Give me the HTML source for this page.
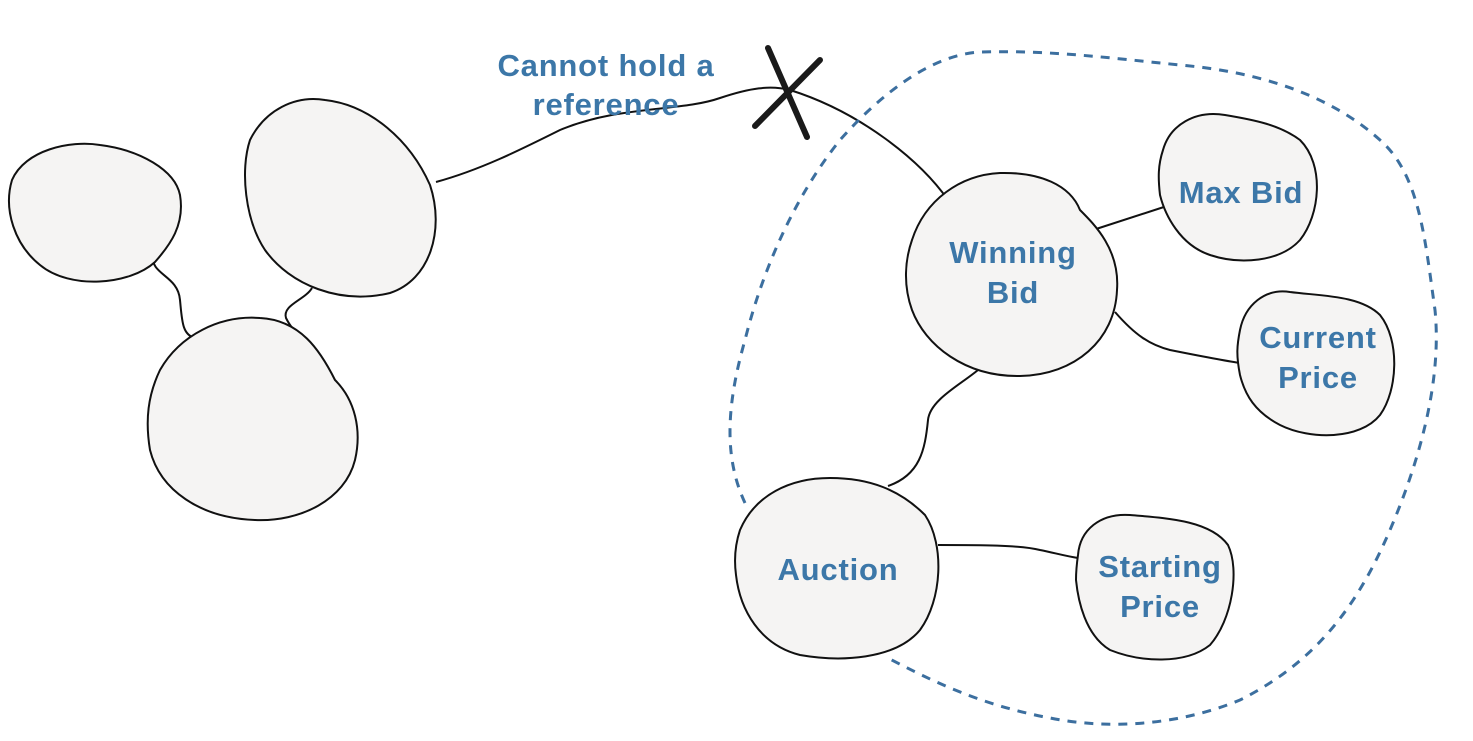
<!DOCTYPE html>
<html><head><meta charset="utf-8"><style>
html,body{margin:0;padding:0;background:#fff;}
svg{display:block;}
text{font-family:"Liberation Sans","DejaVu Sans",sans-serif;font-weight:bold;fill:#3c77a8;font-size:31px;text-anchor:middle;letter-spacing:0.8px;}
</style></head><body>
<svg width="1473" height="741" viewBox="0 0 1473 741" xmlns="http://www.w3.org/2000/svg">
<g fill="none" stroke="#111" stroke-width="2">
<path d="M153 255 C150 275,178 275,180 300 C182 320,182 335,195 338"/>
<path d="M312 288 C305 300,282 305,286 318 C290 326,295 332,300 334"/>
<path d="M436 182 C480 170,520 150,560 130 C620 105,680 112,720 98 C750 88,770 85,790 90 C860 112,920 160,948 200"/>
<path d="M1093 230 L1170 205"/>
<path d="M1115 312 C1135 335,1150 345,1170 350 C1200 356,1220 360,1240 363"/>
<path d="M978 370 C960 385,930 400,928 420 C925 450,920 475,888 486"/>
<path d="M938 545 C980 545,1020 545,1040 550 C1055 553,1065 556,1078 558"/>
</g>
<path d="M745 503 C725 460,725 410,745 340 C765 260,800 190,840 140 C880 95,930 55,980 52 C1050 50,1110 58,1180 65 C1260 72,1330 95,1380 140 C1420 175,1425 240,1435 310 C1442 380,1420 460,1390 530 C1360 600,1320 660,1240 700 C1180 725,1110 730,1050 718 C980 705,930 680,888 658" fill="none" stroke="#3c6f9f" stroke-width="3" stroke-dasharray="9 8"/>
<g fill="#f5f4f3" stroke="#111" stroke-width="2">
<path d="M12 180 C25 150,70 140,100 145 C140 150,175 170,180 195 C185 225,170 245,155 262 C130 285,70 290,40 265 C15 245,3 210,12 180 Z"/>
<path d="M250 140 C265 110,295 95,325 100 C370 105,410 140,430 185 C445 230,430 280,390 293 C340 305,290 285,265 250 C245 220,240 170,250 140 Z"/>
<path d="M160 370 C180 335,220 315,260 318 C300 320,320 350,335 380 C355 400,362 430,355 460 C345 500,300 522,255 520 C200 518,160 490,150 450 C145 420,148 395,160 370 Z"/>
<path d="M912 240 C925 200,960 175,1000 173 C1040 172,1070 185,1080 210 C1095 225,1120 250,1117 290 C1115 340,1075 375,1020 376 C965 377,925 345,912 310 C903 285,905 260,912 240 Z"/>
<path d="M1163 150 C1170 125,1195 110,1225 115 C1255 120,1280 125,1300 140 C1325 165,1320 215,1300 240 C1280 262,1240 265,1210 255 C1180 245,1165 215,1160 195 C1158 178,1158 165,1163 150 Z"/>
<path d="M1240 330 C1245 305,1265 288,1290 292 C1320 296,1360 295,1380 315 C1400 340,1398 390,1380 415 C1360 440,1310 440,1280 425 C1255 412,1245 395,1240 375 C1236 355,1237 345,1240 330 Z"/>
<path d="M740 530 C755 495,790 478,830 478 C870 478,900 490,925 515 C945 545,942 600,920 630 C895 660,840 662,800 655 C760 645,740 610,736 575 C734 560,735 545,740 530 Z"/>
<path d="M1078 555 C1080 530,1100 513,1130 515 C1165 518,1210 520,1228 545 C1240 570,1232 620,1210 645 C1185 665,1140 662,1110 650 C1085 635,1078 600,1076 580 C1076 570,1077 562,1078 555 Z"/>
</g>
<g stroke="#1a1a1a" stroke-width="6" stroke-linecap="round">
<line x1="755" y1="126" x2="820" y2="60"/>
<line x1="768" y1="48" x2="807" y2="137"/>
</g>
<text x="606" y="76">Cannot hold a</text>
<text x="606" y="115">reference</text>
<text x="1013" y="263">Winning</text>
<text x="1013" y="303">Bid</text>
<text x="1241" y="203">Max Bid</text>
<text x="1318" y="348">Current</text>
<text x="1318" y="388">Price</text>
<text x="838" y="580">Auction</text>
<text x="1160" y="577">Starting</text>
<text x="1160" y="617">Price</text>
</svg>
</body></html>
